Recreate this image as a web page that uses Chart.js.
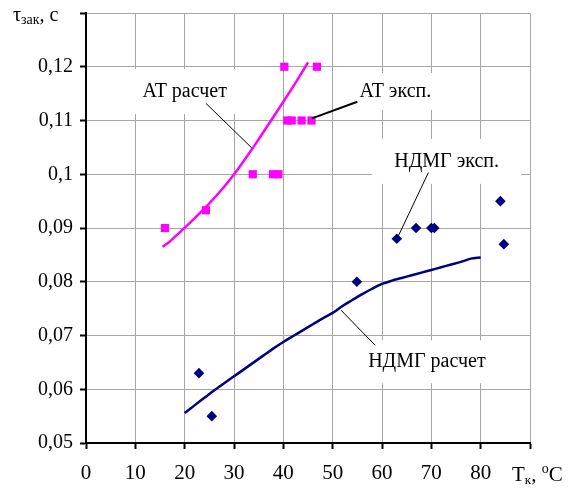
<!DOCTYPE html>
<html>
<head>
<meta charset="utf-8">
<script src="https://cdn.jsdelivr.net/npm/chart.js@4/dist/chart.umd.min.js"></script>
<style>
html,body{margin:0;padding:0;background:#fff;}
#wrap{width:574px;height:489px;position:relative;}
</style>
</head>
<body>
<div id="wrap"><canvas id="c" width="574" height="489"></canvas></div>
<script>
// ---- Data ----
const atExpX = [16, 24.3, 33.8, 37.9, 39, 40.2, 40.8, 41.7, 43.7, 45.7, 46.8];
const atExpY = [0.090, 0.0933, 0.100, 0.100, 0.100, 0.120, 0.110, 0.110, 0.110, 0.110, 0.120];

const atCalcX = [15.5, 17, 19, 21, 23, 25, 27, 29, 31, 33, 35, 37, 39, 41, 43, 45];
const atCalcY = [0.0865, 0.0875, 0.0892, 0.0909, 0.0927, 0.0946, 0.0966, 0.0988, 0.1012, 0.1038, 0.1065, 0.1093, 0.1121, 0.1149, 0.1178, 0.1208];

const ndmgExpX = [22.9, 25.5, 54.9, 63.0, 66.9, 70.0, 70.6, 84.0, 84.7];
const ndmgExpY = [0.063, 0.055, 0.080, 0.088, 0.090, 0.090, 0.090, 0.095, 0.087];

const ndmgCalcX = [20, 22, 24, 26, 28, 30, 32, 34, 36, 38, 40, 42, 44, 46, 48, 50, 52, 54, 56, 58, 60, 62, 64, 66, 68, 70, 72, 74, 76, 78, 80];
const ndmgCalcY = [0.0556, 0.0570, 0.0584, 0.0598, 0.0611, 0.0624, 0.0637, 0.0650, 0.0663, 0.0676, 0.0688, 0.0699, 0.0710, 0.0721, 0.0732, 0.0742, 0.0755, 0.0766, 0.0777, 0.0787, 0.0796, 0.0802, 0.0807, 0.0812, 0.0817, 0.0822, 0.0827, 0.0832, 0.0837, 0.0843, 0.0845];

const xTicks = [0, 10, 20, 30, 40, 50, 60, 70, 80];
const yTicks = [0.05, 0.06, 0.07, 0.08, 0.09, 0.10, 0.11, 0.12];

// annotation labels (text + anchor in data units)
const labelTexts = ['AT расчет', 'AT эксп.', 'НДМГ эксп.', 'НДМГ расчет'];
const labelX = [20.0, 62.7, 73.1, 69.1];
const labelY = [0.1154, 0.1154, 0.1024, 0.0651];
const leaderFromX = [24.3, 55.0, 69.4, 51.7];
const leaderFromY = [0.1132, 0.1135, 0.1003, 0.0747];
const leaderToX = [33.6, 45.8, 63.2, 58.6];
const leaderToY = [0.1049, 0.1104, 0.0883, 0.0682];

// ---- styles ----
const FONT = "'Liberation Serif'";
const boxPadX = [14, 13, 22, 16];
const boxH = [45, 37, 45, 43];
const leaderW = [1, 2, 1, 1];

const toPts = (xs, ys) => xs.map((x, i) => ({x: x, y: ys[i]}));

const annPlugin = {
  id: 'ann',
  beforeDatasetsDraw(chart) {
    const ctx = chart.ctx, xs = chart.scales.x, ys = chart.scales.y;
    ctx.save();
    ctx.font = '20px ' + FONT;
    labelTexts.forEach((t, i) => {
      const cx = xs.getPixelForValue(labelX[i]);
      const cy = ys.getPixelForValue(labelY[i]);
      const w = ctx.measureText(t).width + 2 * boxPadX[i];
      ctx.fillStyle = '#fff';
      ctx.fillRect(cx - w / 2, cy - boxH[i] / 2, w, boxH[i]);
    });
    ctx.restore();
  },
  afterDatasetsDraw(chart) {
    const ctx = chart.ctx, xs = chart.scales.x, ys = chart.scales.y;
    ctx.save();
    labelTexts.forEach((t, i) => {
      ctx.strokeStyle = '#000';
      ctx.lineWidth = leaderW[i];
      ctx.beginPath();
      ctx.moveTo(xs.getPixelForValue(leaderFromX[i]), ys.getPixelForValue(leaderFromY[i]));
      ctx.lineTo(xs.getPixelForValue(leaderToX[i]), ys.getPixelForValue(leaderToY[i]));
      ctx.stroke();
      ctx.fillStyle = '#000';
      ctx.font = '20px ' + FONT;
      ctx.textAlign = 'center';
      ctx.textBaseline = 'middle';
      ctx.fillText(t, xs.getPixelForValue(labelX[i]), ys.getPixelForValue(labelY[i]));
    });
    ctx.fillStyle = '#000';
    ctx.textAlign = 'left';
    ctx.textBaseline = 'alphabetic';
    let x = 13, base = ys.getPixelForValue(0.13) + 8;
    ctx.font = '20px ' + FONT; ctx.fillText('τ', x, base); x += ctx.measureText('τ').width;
    ctx.font = '14px ' + FONT; ctx.fillText('зак', x, base + 3); x += ctx.measureText('зак').width;
    ctx.font = '20px ' + FONT; ctx.fillText(', с', x, base);
    x = xs.getPixelForValue(90) - 18; base = chart.chartArea.bottom + 38;
    ctx.font = '21px ' + FONT; ctx.fillText('T', x, base); x += ctx.measureText('T').width;
    ctx.font = '13px ' + FONT; ctx.fillText('к', x, base + 3); x += ctx.measureText('к').width;
    ctx.font = '21px ' + FONT; ctx.fillText(', ', x, base); x += ctx.measureText(', ').width;
    ctx.font = '14px ' + FONT; ctx.fillText('o', x, base - 8); x += ctx.measureText('o').width;
    ctx.font = '21px ' + FONT; ctx.fillText('C', x, base);
    ctx.restore();
  }
};

new Chart(document.getElementById('c'), {
  type: 'scatter',
  data: {
    datasets: [
      {label: 'AT расчет', data: toPts(atCalcX, atCalcY), showLine: true, borderColor: '#ff00ff', borderWidth: 2.5, pointRadius: 0, tension: 0.3, fill: false},
      {label: 'НДМГ расчет', data: toPts(ndmgCalcX, ndmgCalcY), showLine: true, borderColor: '#000080', borderWidth: 2.5, pointRadius: 0, tension: 0.3, fill: false},
      {label: 'AT эксп.', data: toPts(atExpX, atExpY), showLine: false, pointStyle: 'rect', pointRadius: 5.8, backgroundColor: '#ff00ff', borderColor: '#ff00ff', borderWidth: 0},
      {label: 'НДМГ эксп.', data: toPts(ndmgExpX, ndmgExpY), showLine: false, pointStyle: 'rectRot', pointRadius: 5.3, backgroundColor: '#000080', borderColor: '#000080', borderWidth: 0}
    ]
  },
  options: {
    responsive: false,
    animation: false,
    layout: {padding: {top: 13, right: 44, left: 0, bottom: 0}},
    plugins: {legend: {display: false}, tooltip: {enabled: false}},
    scales: {
      x: {
        type: 'linear', min: 0, max: 90,
        afterFit: s => { s.height = 46; s.paddingLeft = 0; s.paddingRight = 0; },
        afterBuildTicks: s => { s.ticks = xTicks.concat([90]).map(v => ({value: v})); },
        grid: {color: '#a6a6a6', lineWidth: 1, tickColor: '#000', tickLength: 6, tickWidth: 2},
        border: {color: '#000', width: 2},
        ticks: {
          font: {family: FONT, size: 21}, color: '#000', padding: 12, maxRotation: 0, autoSkip: false,
          callback: v => (xTicks.includes(v) ? String(v) : '')
        }
      },
      y: {
        type: 'linear', min: 0.05, max: 0.13,
        afterFit: s => { s.width = 86; s.paddingTop = 0; s.paddingBottom = 0; },
        afterBuildTicks: s => { s.ticks = yTicks.concat([0.13]).map(v => ({value: v})); },
        grid: {color: '#a6a6a6', lineWidth: 1, tickColor: '#000', tickLength: 6, tickWidth: 2},
        border: {color: '#000', width: 2},
        ticks: {
          font: {family: FONT, size: 20}, color: '#000', padding: 7, autoSkip: false,
          callback: v => (v > 0.125 ? '' : String(Number(v.toFixed(2))).replace('.', ','))
        }
      }
    }
  },
  plugins: [annPlugin]
});
</script>
</body>
</html>
